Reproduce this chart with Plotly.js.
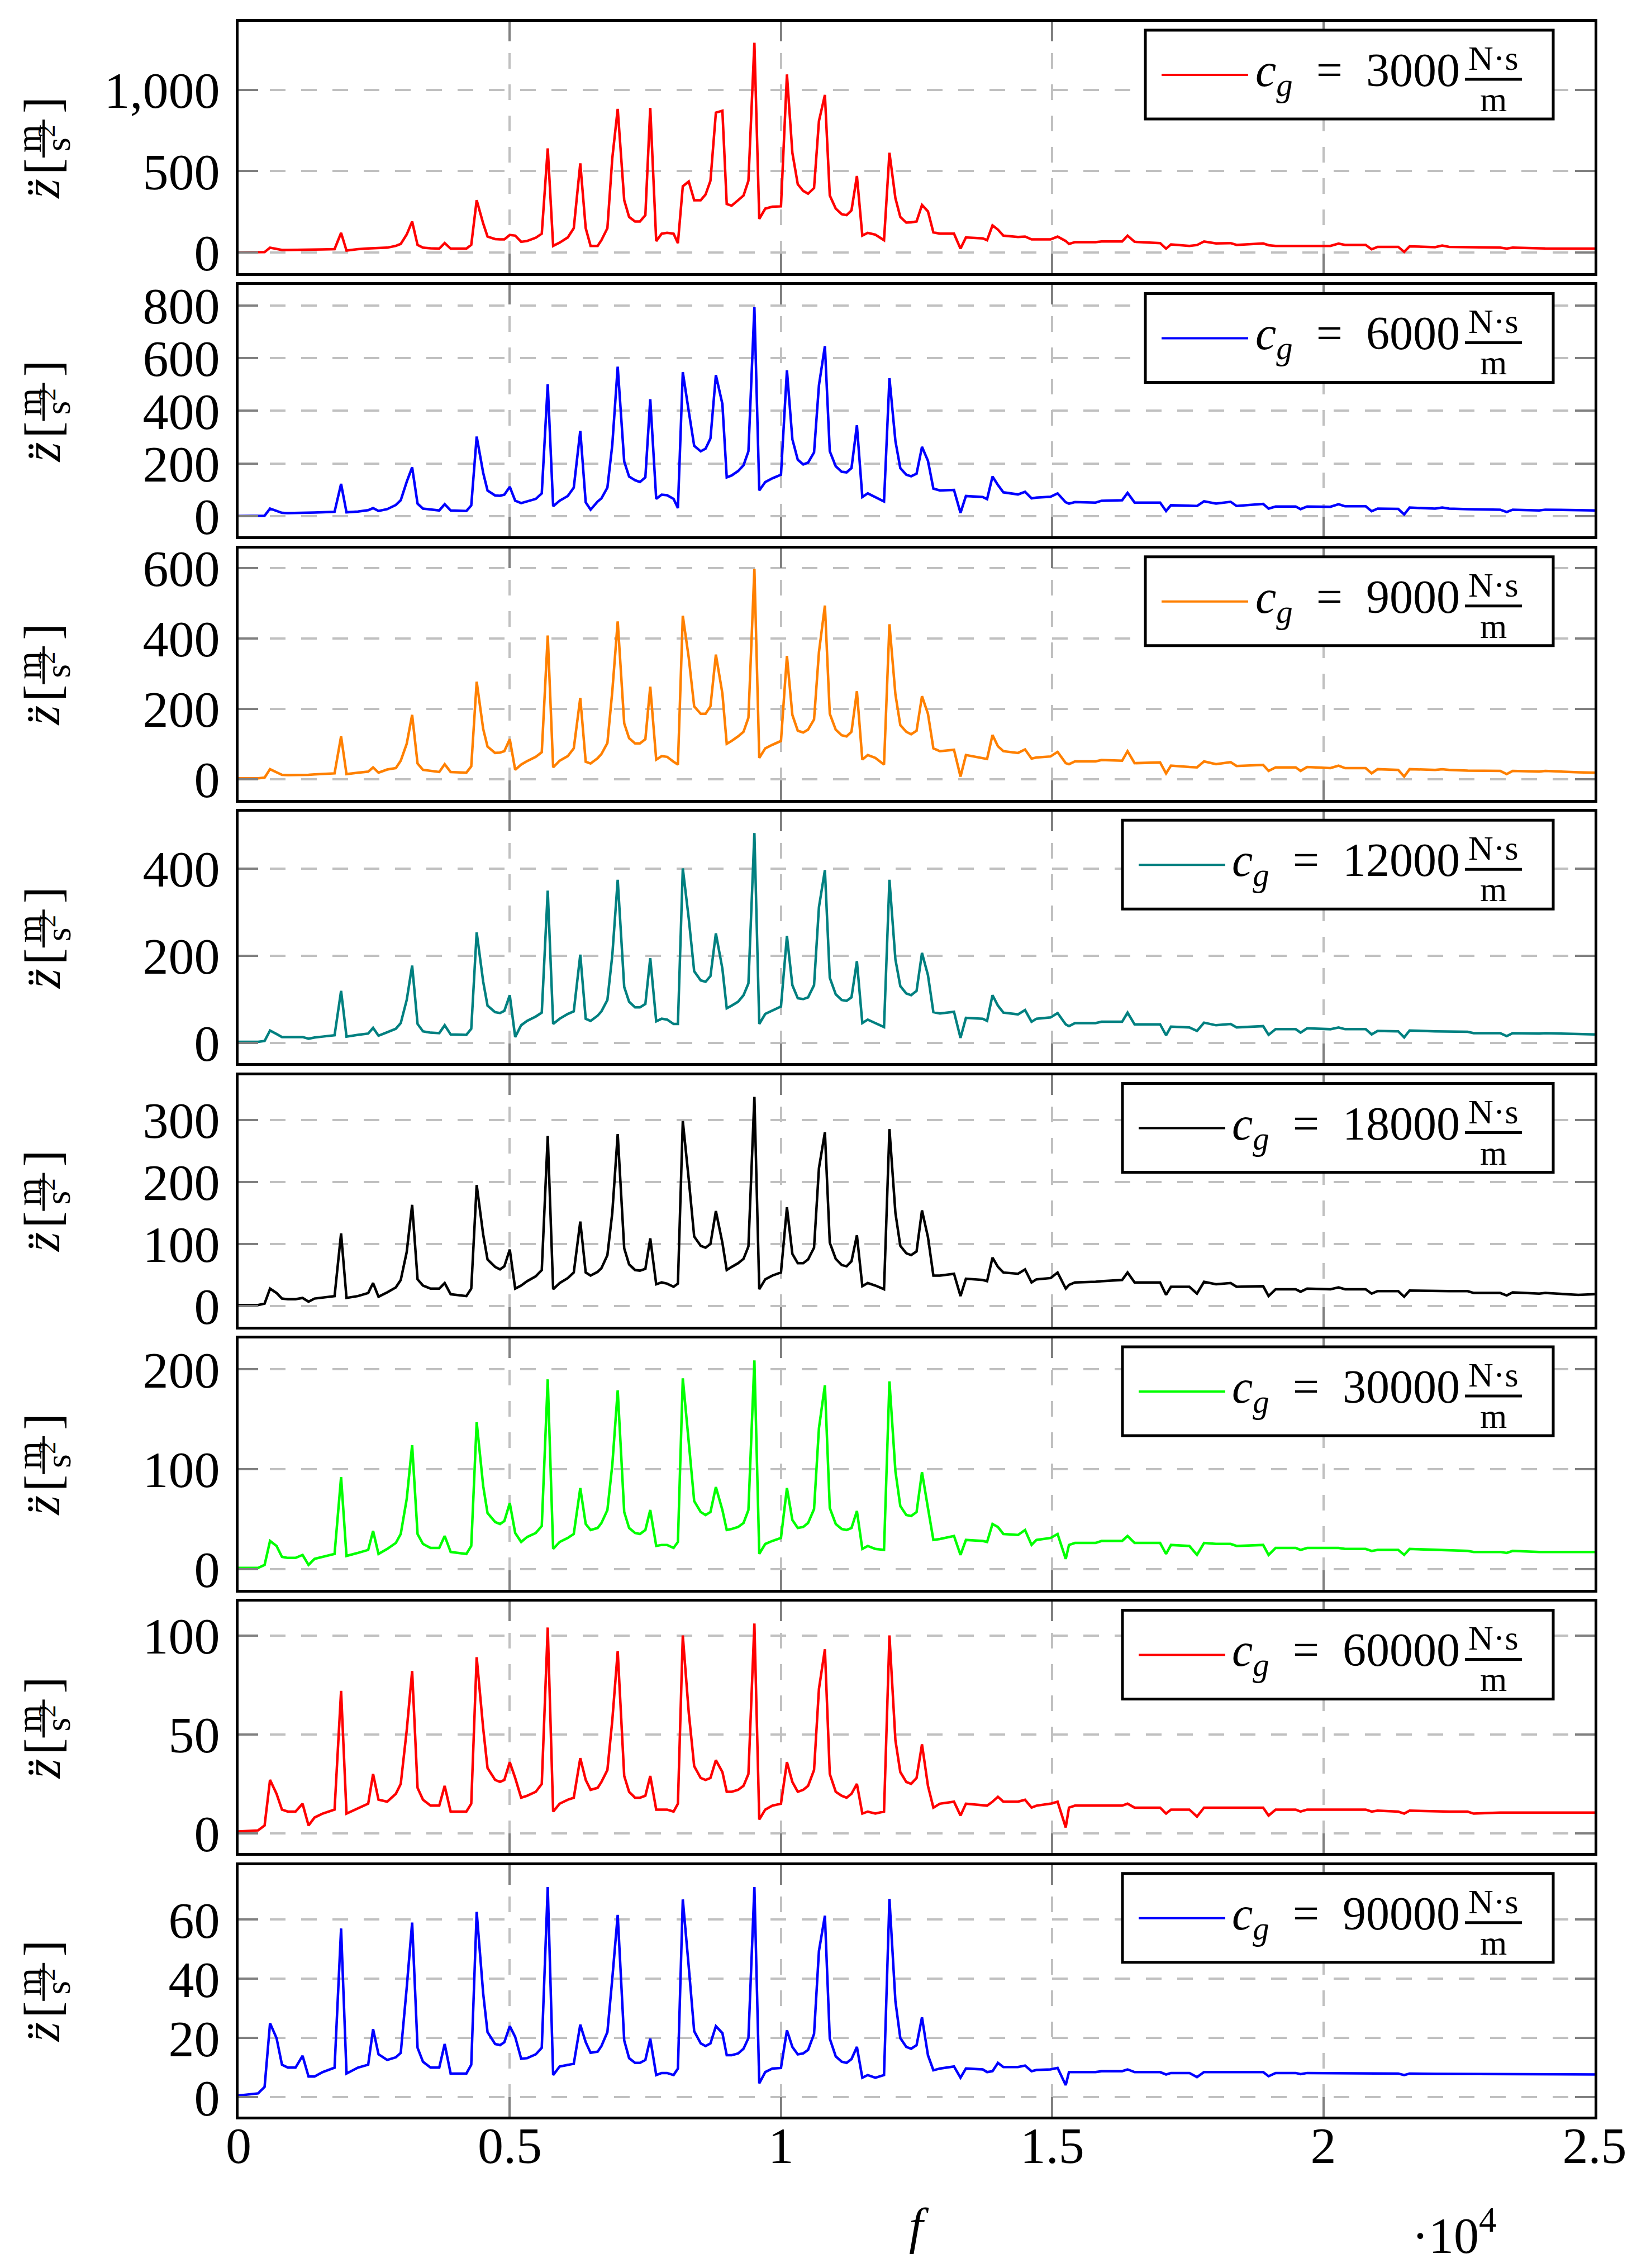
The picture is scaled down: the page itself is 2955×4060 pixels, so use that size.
<!DOCTYPE html>
<html>
<head>
<meta charset="utf-8">
<script src="https://cdn.plot.ly/plotly-3.0.1.min.js"></script>
<style>
  html, body { margin: 0; padding: 0; background: #fff; }
  #chart { width: 2955px; height: 4060px; }
</style>
</head>
<body>
<div id="chart"></div>
<script>
// Данные: частота f (Гц), общая для всех графиков
const freq = [
  0, 360, 480, 580, 700, 800, 910, 1050, 1180, 1290,
  1400, 1550, 1770, 1890, 1990, 2200, 2390, 2480, 2580, 2740,
  2900, 2990, 3100, 3200, 3300, 3400, 3540, 3700, 3800, 3910,
  4200, 4290, 4390, 4510, 4590, 4730, 4820, 4900, 5000, 5100,
  5210, 5320, 5480, 5590, 5700, 5800, 5920, 6070, 6180, 6300,
  6400, 6490, 6620, 6690, 6800, 6890, 6990, 7110, 7200, 7310,
  7400, 7500, 7590, 7700, 7800, 7900, 8020, 8100, 8190, 8300,
  8400, 8520, 8610, 8700, 8800, 8920, 9000, 9090, 9210, 9310,
  9400, 9510, 9600, 9710, 9840, 10000, 10110, 10210, 10310, 10410,
  10500, 10610, 10700, 10810, 10900, 11010, 11120, 11210, 11300, 11400,
  11500, 11600, 11740, 11900, 12000, 12110, 12200, 12310, 12400, 12500,
  12600, 12710, 12810, 12930, 13190, 13310, 13410, 13720,
  13800, 13900, 14000, 14100, 14370, 14500, 14620, 14710, 14970, 15100,
  15250, 15310, 15420, 15800, 15910, 16290, 16390, 16520, 16990, 17100,
  17190, 17530, 17670, 17800, 18020, 18290, 18400, 18890, 18990, 19120,
  19490, 19580, 19700, 20130, 20280, 20400, 20780, 20890, 21000, 21380,
  21490, 21590, 22060, 22190, 22320, 22660, 22770, 23260, 23380, 23490,
  23980, 24090, 24700, 25000
];

// Ускорение z'' (м/с^2) для разных c_g
const c3000 = [
  0, 0, 2, 29, 20, 15, 15, 15, 16, 16,
  17, 18, 20, 120, 11, 20, 24, 26, 27, 29,
  40, 52, 110, 190, 46, 29, 25, 23, 57, 23,
  23, 46, 321, 178, 97, 82, 80, 80, 107, 103,
  65, 70, 90, 115, 640, 40, 60, 92, 149, 548,
  149, 40, 40, 75, 149, 579, 883, 321, 218, 190,
  190, 229, 889, 69, 115, 120, 115, 57, 407, 436,
  321, 321, 356, 441, 860, 872, 298, 287, 321, 350,
  441, 1290, 206, 269, 281, 283, 1095, 613, 419, 378,
  361, 396, 808, 969, 350, 269, 235, 229, 258, 470,
  103, 120, 109, 75, 613, 333, 218, 183, 185, 190,
  292, 252, 123, 115, 115, 23, 92, 86,
  75, 166, 140, 103, 95, 97, 80, 80, 80, 97,
  70, 52, 63, 63, 67, 67, 103, 65, 57, 23,
  49, 40, 45, 67, 55, 57, 46, 55, 44, 40,
  40, 42, 41, 40, 54, 46, 46, 19, 34, 34,
  3, 37, 32, 42, 34, 31, 30, 29, 23, 29,
  25, 24, 23, 23
];
const c6000 = [
  0, 0, 1, 28, 20, 12, 11, 11, 12, 12,
  13, 14, 16, 122, 14, 17, 22, 30, 19, 26,
  42, 60, 130, 185, 47, 28, 24, 21, 45, 21,
  19, 40, 302, 164, 97, 78, 77, 81, 111, 58,
  49, 55, 65, 86, 501, 37, 58, 76, 108, 324,
  52, 24, 55, 67, 108, 270, 568, 207, 150, 136,
  129, 147, 444, 65, 81, 79, 65, 30, 547, 398,
  267, 246, 256, 295, 536, 426, 147, 154, 171, 193,
  246, 794, 97, 129, 143, 157, 554, 292, 214, 196,
  203, 242, 497, 646, 246, 189, 168, 166, 182, 345,
  72, 86, 72, 55, 524, 285, 182, 157, 151, 161,
  263, 210, 104, 97, 99, 12, 76, 72,
  64, 150, 118, 90, 82, 92, 67, 70, 73, 86,
  52, 47, 53, 51, 58, 60, 88, 51, 51, 19,
  41, 40, 38, 56, 47, 54, 38, 46, 28, 36,
  36, 26, 36, 35, 45, 37, 37, 18, 28, 27,
  6, 32, 28, 32, 28, 26, 26, 24, 15, 24,
  21, 24, 22, 21
];
const c9000 = [
  3, 3, 5, 29, 20, 13, 12, 12, 12, 13,
  14, 15, 17, 122, 15, 19, 22, 34, 19, 28,
  32, 53, 101, 183, 45, 27, 24, 21, 43, 21,
  19, 37, 277, 143, 93, 75, 76, 80, 114, 27,
  42, 52, 64, 77, 408, 34, 53, 66, 88, 231,
  50, 45, 60, 72, 103, 249, 448, 159, 117, 102,
  102, 114, 263, 56, 66, 64, 50, 42, 464, 345,
  207, 186, 186, 207, 354, 244, 101, 109, 122, 135,
  175, 597, 61, 88, 98, 109, 350, 183, 138, 133,
  141, 170, 361, 493, 186, 141, 125, 122, 135, 250,
  56, 69, 61, 42, 440, 241, 154, 135, 128, 138,
  236, 186, 88, 80, 84, 8, 69, 61,
  58, 126, 94, 80, 75, 85, 59, 62, 65, 78,
  46, 43, 51, 51, 55, 53, 80, 46, 48, 17,
  39, 35, 34, 51, 43, 49, 38, 41, 24, 34,
  34, 24, 35, 32, 39, 32, 32, 17, 29, 27,
  8, 29, 27, 29, 27, 25, 25, 24, 15, 24,
  22, 24, 20, 19
];
const c12000 = [
  2, 2, 4, 28, 20, 13, 13, 13, 13, 9,
  12, 14, 17, 119, 14, 18, 21, 34, 16, 24,
  32, 45, 98, 177, 43, 26, 23, 22, 40, 19,
  18, 32, 253, 140, 85, 70, 68, 73, 109, 13,
  40, 50, 60, 69, 349, 43, 55, 66, 72, 202,
  55, 50, 62, 72, 98, 200, 374, 128, 94, 81,
  81, 89, 194, 49, 55, 53, 43, 43, 400, 285,
  164, 143, 140, 153, 251, 170, 79, 85, 94, 109,
  136, 481, 43, 66, 74, 83, 245, 132, 102, 100,
  104, 132, 311, 396, 149, 111, 98, 96, 104, 187,
  45, 53, 45, 36, 374, 191, 130, 113, 109, 119,
  206, 155, 70, 67, 71, 11, 57, 55,
  50, 109, 85, 69, 65, 75, 48, 55, 58, 68,
  42, 38, 45, 45, 48, 48, 69, 42, 42, 17,
  37, 35, 27, 46, 40, 43, 35, 38, 18, 31,
  31, 23, 33, 31, 35, 31, 31, 19, 27, 26,
  12, 28, 26, 26, 26, 25, 22, 22, 15, 22,
  21, 22, 20, 19
];
const c18000 = [
  1.5, 1.5, 4, 28, 21, 12, 11, 11, 13, 7,
  12, 14, 16, 117, 13, 16, 21, 37, 15, 22,
  30, 42, 87, 163, 43, 33, 28, 28, 37, 19,
  16, 28, 195, 115, 75, 63, 59, 64, 91, 28,
  33, 40, 48, 58, 274, 27, 37, 45, 54, 136,
  54, 49, 55, 61, 82, 150, 277, 93, 67, 58,
  57, 60, 109, 35, 38, 36, 31, 36, 298, 204,
  112, 97, 94, 100, 153, 102, 58, 63, 69, 76,
  96, 337, 27, 43, 49, 54, 159, 84, 69, 69,
  75, 94, 222, 280, 102, 76, 66, 64, 72, 114,
  32, 37, 33, 27, 285, 150, 97, 85, 82, 88,
  154, 111, 49, 49, 52, 16, 44, 42,
  40, 78, 63, 54, 52, 59, 38, 43, 45, 54,
  28, 34, 38, 39, 40, 42, 54, 38, 38, 18,
  31, 31, 20, 39, 35, 37, 31, 32, 16, 27,
  27, 23, 28, 27, 30, 27, 27, 20, 24, 24,
  15, 25, 24, 24, 24, 24, 21, 21, 17, 22,
  20, 21, 18, 19
];
const c30000 = [
  1, 1, 4, 28, 23, 12, 11, 11, 14, 4,
  10, 12, 15, 92, 13, 16, 19, 38, 15, 20,
  26, 35, 70, 124, 35, 25, 21, 21, 33, 17,
  15, 23, 147, 83, 56, 47, 45, 48, 66, 36,
  27, 32, 36, 43, 190, 20, 27, 31, 35, 81,
  45, 39, 41, 46, 59, 104, 179, 57, 41, 36,
  35, 39, 59, 23, 24, 24, 21, 27, 191, 127,
  68, 57, 54, 57, 82, 59, 39, 40, 42, 46,
  59, 209, 15, 25, 28, 31, 81, 49, 41, 42,
  46, 60, 141, 184, 61, 45, 40, 39, 41, 58,
  20, 23, 20, 19, 188, 98, 63, 54, 53, 57,
  97, 61, 29, 30, 33, 14, 29, 28,
  27, 45, 42, 35, 34, 39, 24, 29, 31, 35,
  10, 24, 26, 26, 28, 28, 33, 26, 26, 15,
  24, 23, 14, 26, 25, 25, 23, 24, 14, 21,
  21, 19, 21, 21, 21, 20, 20, 18, 19, 19,
  14, 20, 19, 19, 19, 18, 17, 17, 16, 18,
  17, 17, 17, 17
];
const c60000 = [
  1, 1.5, 4, 27, 20, 12, 11, 11, 15, 4,
  8, 10, 12, 72, 10, 12.5, 15, 30, 17, 16,
  20, 25, 52, 82, 23, 17, 14, 14, 24, 11,
  11, 15, 89, 53, 33, 27, 26, 27, 36, 28,
  18, 19, 21, 25, 104, 11, 15, 17, 18, 38,
  27, 22, 23, 26, 32, 57, 92, 29, 21, 18,
  18, 19, 29, 12, 12, 12, 11, 15, 100, 61,
  34, 28, 27, 28, 37, 31, 21, 21, 22, 24,
  30, 106, 7, 12, 14, 15, 36, 26, 21, 22,
  24, 32, 73, 93, 30, 21, 19, 18, 20, 25,
  10, 11, 10, 11, 100, 47, 31, 26, 25, 28,
  45, 24, 13, 15, 16, 9, 15, 14,
  14, 16, 18.5, 16, 16, 17, 13, 14, 15, 16,
  3, 13, 14, 14, 14, 14, 15, 13, 13, 10,
  12, 12, 8.5, 13, 13, 13, 13, 13, 9, 12,
  12, 11, 12, 12, 12, 12, 12, 11, 11.5, 11,
  10, 11.5, 11, 11, 11, 11, 10, 10.5, 10.5, 10.5,
  10.5, 10.5, 10.5, 10.5
];
const c90000 = [
  0.6, 1.3, 3.5, 25, 20, 11, 10, 10, 14, 7,
  7, 8.5, 10, 57, 8, 10, 11, 23, 14.5, 12.6,
  13.5, 15, 37, 59, 16.7, 12, 10, 10, 18, 8,
  8, 11, 62.6, 35, 22, 18, 17.6, 18.6, 24, 20.4,
  13, 13.2, 14.5, 16.7, 71, 7.5, 10.4, 11, 11.3, 24.5,
  18.6, 15, 15.4, 17.3, 22, 40, 61.6, 19.2, 13.2, 11.6,
  11.6, 12.6, 19.8, 7.5, 8.2, 8.2, 7.5, 9.7, 66.8, 44,
  22.3, 18.2, 17.3, 18.2, 24, 21.7, 14.2, 14.2, 14.8, 16.4,
  20, 71, 4.7, 8.5, 9.7, 9.9, 22.6, 17, 14.5, 14.8,
  16, 21.4, 49.4, 61.3, 19.8, 13.8, 12, 11.6, 12.9, 17,
  6.6, 7.5, 6.6, 7.5, 67, 32.4, 20, 17, 16.4, 17.6,
  27, 14.2, 9.1, 9.7, 10.4, 6.6, 9.7, 9.4,
  8.5, 8.8, 11.6, 10.2, 10.2, 10.7, 8.8, 9.2, 9.4, 9.9,
  4.1, 8.5, 8.5, 8.5, 8.8, 8.8, 9.4, 8.5, 8.5, 7.7,
  8.2, 8.2, 6.8, 8.5, 8.5, 8.5, 8.5, 8.5, 7.1, 8.2,
  8.2, 7.8, 8.2, 8.1, 8.1, 8.1, 8.1, 8, 8, 8,
  7.5, 8, 7.9, 7.9, 7.9, 7.9, 7.8, 7.8, 7.8, 7.8,
  7.7, 7.7, 7.7, 7.7
];

const series = [c3000, c6000, c9000, c12000, c18000, c30000, c60000, c90000];
const dampingLabels = ["3000", "6000", "9000", "12000", "18000", "30000", "60000", "90000"];

// Подписи осей
const xTickVals = [0, 5000, 10000, 15000, 20000, 25000];
const xTickText = ["0", "0.5", "1", "1.5", "2", "2.5"];
const yTickVals = [
  [0, 500, 1000], [0, 200, 400, 600, 800], [0, 200, 400, 600], [0, 200, 400],
  [0, 100, 200, 300], [0, 100, 200], [0, 50, 100], [0, 20, 40, 60]
];
const yTickText = [
  ["0", "500", "1,000"], ["0", "200", "400", "600", "800"], ["0", "200", "400", "600"], ["0", "200", "400"],
  ["0", "100", "200", "300"], ["0", "100", "200"], ["0", "50", "100"], ["0", "20", "40", "60"]
];

// Стили
const colors = ["#ff0000", "#0000ff", "#ff8000", "#008080", "#000000", "#00ff00", "#ff0000", "#0000ff"];
const yRanges = [[-128, 1419], [-78, 878], [-58, 655], [-47, 530], [-33, 372], [-21, 231], [-10, 117], [-6.5, 78.4]];
const FONT = "Liberation Serif, DejaVu Serif, serif";
const TICK_SIZE = 92;

// Геометрия (пиксели)
const W = 2955, H = 4060;
const PLOT_L = 427, PLOT_R = 2854, PLOT_T = 39, PLOT_B = 3789;
const PANEL_STEP = 471.4, PANEL_H = 450;

function px(x) { return (x - PLOT_L) / (PLOT_R - PLOT_L); }
function py(y) { return (PLOT_B - y) / (PLOT_B - PLOT_T); }

/**
 * @description Текстовая подпись в пиксельных координатах страницы
 */
function note(text, x, y, size, extra) {
  return Object.assign({
    text: text, x: px(x), y: py(y), xref: "paper", yref: "paper",
    showarrow: false, xanchor: "center", yanchor: "middle",
    font: { family: FONT, size: size, color: "#000" }
  }, extra || {});
}

/**
 * @description Отрезок в пиксельных координатах страницы
 */
function line(x0, y0, x1, y1, color, width) {
  return {
    type: "line", xref: "paper", yref: "paper",
    x0: px(x0), y0: py(y0), x1: px(x1), y1: py(y1),
    line: { color: color, width: width }, layer: "above"
  };
}

const traces = [];
const layout = {
  width: W, height: H,
  margin: { l: PLOT_L, r: W - PLOT_R, t: PLOT_T, b: H - PLOT_B, pad: 0 },
  paper_bgcolor: "#fff", plot_bgcolor: "#fff",
  showlegend: false,
  annotations: [], shapes: []
};

const EQ = "\u2002=\u2002";

for (let i = 0; i < series.length; i++) {
  const sfx = i === 0 ? "" : String(i + 1);
  const top = PLOT_T + i * PANEL_STEP;
  const bottom = top + PANEL_H;
  const yc = top + PANEL_H / 2;

  traces.push({
    x: freq, y: series[i], xaxis: "x" + sfx, yaxis: "y" + sfx,
    type: "scatter", mode: "lines",
    line: { color: colors[i], width: 4.5 }
  });

  const common = {
    ticks: "inside", ticklen: 35, tickwidth: 4, tickcolor: "#808080",
    showline: true, linecolor: "#000", linewidth: 5, mirror: "ticks",
    showgrid: true, gridcolor: "#c0c0c0", gridwidth: 4, griddash: "28px,28px",
    zeroline: false,
    tickfont: { family: FONT, size: TICK_SIZE, color: "#000" }
  };

  layout["xaxis" + sfx] = Object.assign({}, common, {
    domain: [0, 1], anchor: "y" + sfx, range: [0, 25000],
    tickmode: "array", tickvals: xTickVals, ticktext: xTickText,
    showticklabels: i === series.length - 1, ticklabelstandoff: -32
  });
  if (i > 0) layout["xaxis" + sfx].matches = "x";

  layout["yaxis" + sfx] = Object.assign({}, common, {
    domain: [py(bottom), py(top)], anchor: "x" + sfx, range: yRanges[i],
    tickmode: "array", tickvals: yTickVals[i], ticktext: yTickText[i],
    ticklabelstandoff: 10
  });

  // подпись оси y: z'' [m/s^2]
  layout.annotations.push(note("<i>z\u0308</i>", 76, yc + 74, 90, { textangle: -90 }));
  layout.annotations.push(note("[", 76, yc + 34, 90, { textangle: -90 }));
  layout.annotations.push(note("m", 52, yc - 16, 64, { textangle: -90 }));
  layout.annotations.push(note("s<sup>2</sup>", 99, yc - 16, 64, { textangle: -90 }));
  layout.shapes.push(line(78, yc + 18, 78, yc - 50, "#000", 4));
  layout.annotations.push(note("]", 76, yc - 76, 90, { textangle: -90 }));

  // легенда
  const boxL = dampingLabels[i].length === 4 ? 2050 : 2009;
  const boxR = 2780;
  const boxT = top + 15;
  const boxB = top + 174;
  layout.shapes.push({
    type: "rect", xref: "paper", yref: "paper",
    x0: px(boxL), x1: px(boxR), y0: py(boxB), y1: py(boxT),
    line: { color: "#000", width: 5 }, fillcolor: "#fff", layer: "above"
  });
  layout.shapes.push(line(boxL + 29, boxT + 80, boxL + 184, boxT + 80, colors[i], 4));
  layout.annotations.push(note("<i>c</i><sub><i>g</i></sub>" + EQ + dampingLabels[i], 2615, boxT + 78, 84, { xanchor: "right" }));
  layout.annotations.push(note("N\u00b7s", 2673, boxT + 50, 62));
  layout.shapes.push(line(2622, boxT + 88, 2724, boxT + 88, "#000", 5));
  layout.annotations.push(note("m", 2673, boxT + 124, 62));
}

// подписи оси x
layout.annotations.push(note("<i>f</i>", 1645, 3985, 90));
layout.annotations.push(note("\u00b710<sup>4</sup>", 2680, 3995, 90, { xanchor: "right" }));

Plotly.newPlot("chart", traces, layout, { displayModeBar: false, responsive: false });
</script>
</body>
</html>
